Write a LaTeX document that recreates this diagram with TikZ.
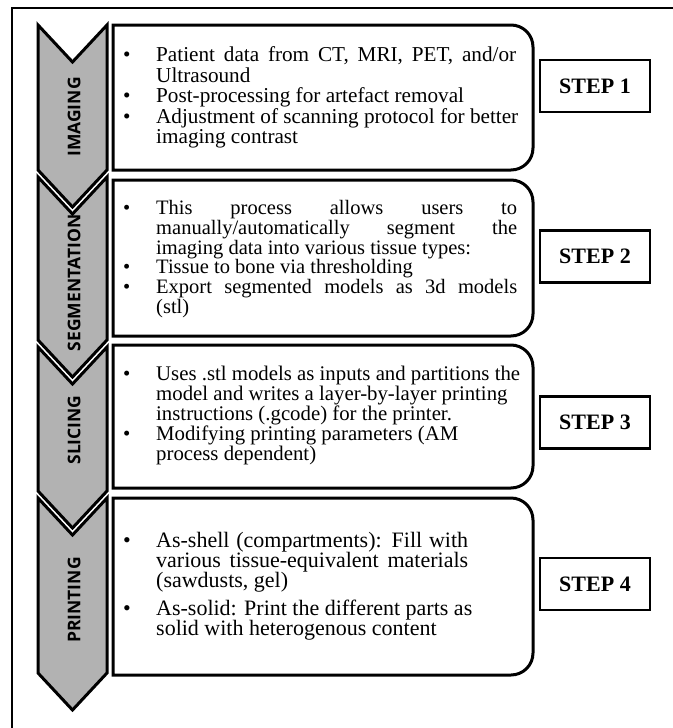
\documentclass[tikz,border=0pt]{standalone}
\usepackage{fontspec}
\setmainfont{Liberation Serif}
\newfontfamily\labelfont{Open Sans}
\definecolor{chevgray}{RGB}{178,178,178}
\newcommand\bul{\makebox[34pt][l]{\hspace{1pt}\textbullet}}
\newcommand\ind{\hspace*{34pt}}
\begin{document}
\begin{tikzpicture}[x=1pt,y=-1pt,
  chev/.style={fill=chevgray,draw=black,line width=3pt,line join=miter},
  bodybox/.style={draw=black,line width=3pt},
  stepbox/.style={draw=black,line width=2.5pt,minimum width=110pt,minimum height=52pt,inner sep=0pt,font=\bfseries\fontsize{22}{22}\selectfont},
  chevlabel/.style={rotate=90,inner sep=0pt,font=\labelfont\bfseries\fontsize{17.5}{17.5}\selectfont},
  bodytext/.style={anchor=west,inner sep=0pt,align=left}]
\useasboundingbox (0,0) rectangle (672,728);
% outer frame
\draw[line width=2pt] (12,740) -- (12,8) -- (690,8);
% chevrons
\draw[chev] (38,25) -- (72.5,62) -- (107,25) -- (107,170) -- (72.5,207) -- (38,170) -- cycle;
\draw[chev] (38,177) -- (72.5,214) -- (107,177) -- (107,340) -- (72.5,377) -- (38,340) -- cycle;
\draw[chev] (38,347) -- (72.5,384) -- (107,347) -- (107,491) -- (72.5,528) -- (38,491) -- cycle;
\draw[chev] (38,498) -- (72.5,535) -- (107,498) -- (107,673) -- (72.5,710) -- (38,673) -- cycle;
\node[chevlabel] (l1) at (74,117) {IMAGING};
\node[chevlabel] (l2) at (74,283) {SEGMENTATION};
\node[chevlabel] (l3) at (74,430) {SLICING};
\node[chevlabel] (l4) at (74,600) {PRINTING};
% rounded boxes
\draw[bodybox] (113,170) -- (113,25) -- (300,25) [rounded corners=22pt] -- (533,25) -- (533,170) -- (300,170) [sharp corners] -- cycle;
\draw[bodybox] (113,336) -- (113,180) -- (300,180) [rounded corners=22pt] -- (533,180) -- (533,336) -- (300,336) [sharp corners] -- cycle;
\draw[bodybox] (113,488) -- (113,345) -- (300,345) [rounded corners=22pt] -- (533,345) -- (533,488) -- (300,488) [sharp corners] -- cycle;
\draw[bodybox] (113,675) -- (113,498) -- (300,498) [rounded corners=22pt] -- (533,498) -- (533,675) -- (300,675) [sharp corners] -- cycle;
% texts
\node[bodytext,font=\fontsize{21.2}{20.5}\selectfont] (t1) at (122,97.5) {%
\bul\makebox[360pt][s]{Patient data from CT, MRI, PET, and/or}\\
\ind Ultrasound\\
\bul Post-processing for artefact removal\\
\bul Adjustment of scanning protocol for better\\
\ind imaging contrast};
\node[bodytext,font=\fontsize{20.5}{18.3}\selectfont] (t2) at (122,259) {%
\bul\makebox[361pt][s]{This process allows users to}\\
\ind\makebox[361pt][s]{manually/automatically segment the}\\
\ind imaging data into various tissue types:\\
\bul Tissue to bone via thresholding\\
\bul\makebox[361pt][s]{Export segmented models as 3d models}\\
\ind (stl)};
\node[bodytext,font=\fontsize{20.8}{20}\selectfont] (t3) at (122,415) {%
\bul Uses .stl models as inputs and partitions the\\
\ind model and writes a layer-by-layer printing\\
\ind instructions (.gcode) for the printer.\\
\bul Modifying printing parameters (AM\\
\ind process dependent)};
\node[bodytext,font=\fontsize{22}{20}\selectfont] (t4) at (122,586) {%
\bul\makebox[312pt][s]{As-shell (compartments): Fill with}\\
\ind\makebox[312pt][s]{various tissue-equivalent materials}\\
\ind (sawdusts, gel)\\[7pt]
\bul As-solid: Print the different parts as\\
\ind solid with heterogenous content};
% step boxes
\node[stepbox] (s1) at (595,86) {STEP 1};
\node[stepbox] (s2) at (595,256.5) {STEP 2};
\node[stepbox] (s3) at (595,422.5) {STEP 3};
\node[stepbox] (s4) at (595,584) {STEP 4};
\end{tikzpicture}
\end{document}
